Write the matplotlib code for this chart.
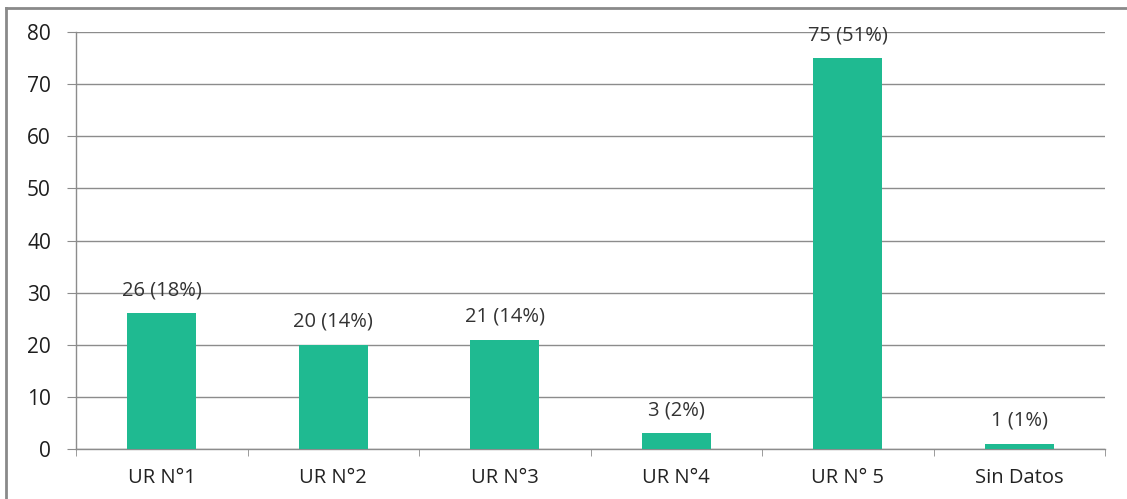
import matplotlib
matplotlib.use("Agg")
import matplotlib.pyplot as plt
from matplotlib.lines import Line2D
import numpy as np

categories = ["UR N°1", "UR N°2", "UR N°3", "UR N°4", "UR N° 5", "Sin Datos"]
values = [26, 20, 21, 3, 75, 1]
percents = [18, 14, 14, 2, 51, 1]
yticks = [0, 10, 20, 30, 40, 50, 60, 70, 80]

plt.rcParams['font.family'] = ['Open Sans', 'DejaVu Sans']

W, H = 1127, 499
fig = plt.figure(figsize=(W / 100, H / 100), dpi=100)
ax = fig.add_axes([76 / W, 1 - 449 / H, (1105 - 76) / W, (449 - 32) / H])

x = np.arange(len(categories))
bar_color = "#1FBA91"
ax.bar(x, values, width=0.4, color=bar_color, zorder=3)

ax.set_xlim(-0.5, len(categories) - 0.5)
ax.set_ylim(0, 80)
ax.set_yticks(yticks)
ax.set_yticklabels([str(t) for t in yticks])
ax.set_xticks(x)
ax.set_xticklabels(categories)
ax.set_xticks(np.arange(len(categories) + 1) - 0.5, minor=True)

grid_color = "#8C8C8C"
ax.yaxis.grid(True, color=grid_color, linewidth=1.0, zorder=0)
ax.set_axisbelow(True)
for s in ["top", "right"]:
    ax.spines[s].set_visible(False)
ax.spines["left"].set_color(grid_color)
ax.spines["bottom"].set_color(grid_color)
ax.spines["left"].set_linewidth(1.0)
ax.spines["bottom"].set_linewidth(1.0)

ax.tick_params(axis="y", length=6.5, color=grid_color, pad=11.5, labelsize=15, labelcolor="#1E1E1E")
ax.tick_params(axis="x", which="major", length=0, pad=14, labelsize=14.5, labelcolor="#222222")
ax.tick_params(axis="x", which="minor", length=5, color=grid_color)

for xi, v, p in zip(x, values, percents):
    ax.annotate(f"{v} ({p}%)", xy=(xi, v), xytext=(0, 13), textcoords="offset points",
                ha="center", va="baseline", fontsize=14.5, color="#333333")

# outer frame (top and left border)
frame_color = "#8A8A8A"
fig.add_artist(Line2D([6 / W, 1.0], [1 - 8 / H, 1 - 8 / H], transform=fig.transFigure,
                      color=frame_color, linewidth=2))
fig.add_artist(Line2D([6 / W, 6 / W], [0, 1 - 8 / H], transform=fig.transFigure,
                      color=frame_color, linewidth=2))

fig.savefig("out.png", dpi=100)
